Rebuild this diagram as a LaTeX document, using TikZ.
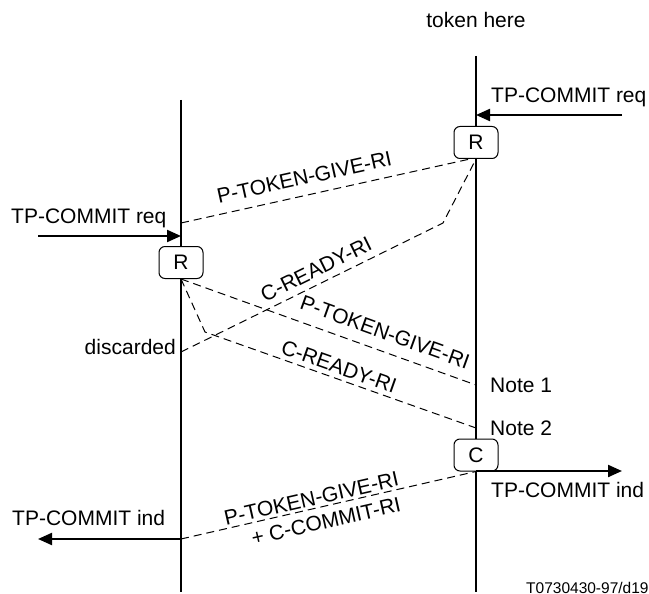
\documentclass[tikz,border=0pt]{standalone}
\usepackage{fontspec}
\setmainfont{Liberation Sans}
\usetikzlibrary{arrows.meta,calc}
\begin{document}
\begin{tikzpicture}[x=1pt,y=-1pt,
  lifeline/.style={line width=1.8pt},
  msg/.style={dashed,dash pattern=on 8pt off 5pt,line width=1pt},
  prim/.style={line width=2.2pt,-{Triangle[length=14pt,width=12pt]}},
  box/.style={draw,line width=1pt,rounded corners=6pt,minimum width=44pt,minimum height=32pt,inner sep=0pt,fill=white,font=\fontsize{21}{24}\selectfont},
  lbl/.style={font=\fontsize{21}{24}\selectfont,inner sep=0pt},
  slbl/.style={font=\fontsize{21}{24}\selectfont,inner sep=0pt,sloped}]
\useasboundingbox (0,0) rectangle (649,594);
\clip (0,0) rectangle (649,594);
% lifelines
\coordinate (Ltop) at (181,100);
\coordinate (Lbot) at (181,592);
\coordinate (Rtop) at (476,56);
\coordinate (Rbot) at (476,592);
\draw[lifeline] (Ltop) -- (Lbot);
\draw[lifeline] (Rtop) -- (Rbot);
% boxes
\node[box] (rR) at (476,142.5) {R};
\node[box] (lR) at (181,262.5) {R};
\node[box] (cC) at (476,455) {C};
% texts
\node[lbl] (tok) at (476,20) {token here};
\node[lbl,anchor=west] (treq) at (491,97) {TP-COMMIT req};
\node[lbl,anchor=west] (lreq) at (11,218) {TP-COMMIT req};
\node[lbl,anchor=east] (disc) at (176,347) {discarded};
\node[lbl,anchor=west] (n1) at (490,385) {Note 1};
\node[lbl,anchor=west] (n2) at (490,428) {Note 2};
\node[lbl,anchor=west] (rind) at (491,490) {TP-COMMIT ind};
\node[lbl,anchor=west] (lind) at (12,518) {TP-COMMIT ind};
\node[font=\fontsize{15.5}{18}\selectfont,inner sep=0pt,anchor=west] (ref) at (526,588) {T0730430-97/d19};
% primitive arrows
\coordinate (trS) at (622,115);
\coordinate (trE) at (476,115);
\draw[prim] (trS) -- (trE);
\coordinate (lrS) at (38,236);
\coordinate (lrE) at (181,236);
\draw[prim] (lrS) -- (lrE);
\coordinate (riS) at (476,471);
\coordinate (riE) at (622,471);
\draw[prim] (riS) -- (riE);
\coordinate (liS) at (181,539);
\coordinate (liE) at (38,539);
\draw[prim] (liS) -- (liE);
% messages
\coordinate (pA) at (181,223);
\coordinate (rRo) at (470,159);
\draw[msg] (pA) -- node[slbl,pos=0.44,above=10pt]{P-TOKEN-GIVE-RI} (rRo);
\coordinate (dA) at (181,352);
\coordinate (bend1) at (443,223);
\draw[msg] (dA) -- node[slbl,pos=0.54,above=6.5pt]{C-READY-RI} (bend1) -- (rR.south);
\coordinate (n1A) at (476,385);
\draw[msg] (lR.south) -- node[slbl,pos=0.67,above=11pt]{P-TOKEN-GIVE-RI} (n1A);
\coordinate (bend2) at (205,332);
\coordinate (n2A) at (476,428);
\draw[msg] (lR.south) -- (bend2) -- node[slbl,pos=0.48,above=4pt]{C-READY-RI} (n2A);
\draw[msg] (liS) -- node[slbl,pos=0.45,above=2.5pt]{P-TOKEN-GIVE-RI}
  node[slbl,pos=0.48,below=7pt]{+ C-COMMIT-RI} (cC.south);
\end{tikzpicture}
\end{document}
